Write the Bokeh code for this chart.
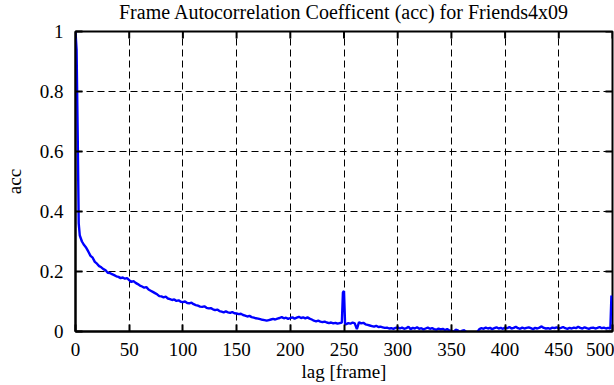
import math
from bokeh.plotting import figure
from bokeh.models import FixedTicker, Range1d, ColumnDataSource
from bokeh.embed import file_html
from bokeh.resources import INLINE

# ---- data (lag in frames, autocorrelation coefficient) ----
lag_head = [0, 1, 2, 3, 4, 5]
acc_head = [1.0, 0.94, 0.67, 0.36, 0.32, 0.31]

lag_body = list(range(6, 249, 2))
acc_body = [
    0.300, 0.288, 0.279, 0.266, 0.252, 0.246, 0.232, 0.226, 0.218, 0.214, 0.208, 0.204,
    0.196, 0.195, 0.191, 0.188, 0.184, 0.182, 0.178, 0.180, 0.176, 0.178, 0.171,
    0.165, 0.168, 0.162, 0.158, 0.153, 0.150, 0.146, 0.148, 0.140, 0.136, 0.132, 0.128,
    0.124, 0.118, 0.117, 0.114, 0.116, 0.110, 0.108, 0.105, 0.107, 0.102, 0.104, 0.099, 0.098,
    0.100, 0.095, 0.094, 0.096, 0.091, 0.088, 0.086, 0.083, 0.082, 0.084, 0.079, 0.077,
    0.078, 0.074, 0.071, 0.073, 0.068, 0.066, 0.064, 0.067, 0.064, 0.062, 0.065, 0.061, 0.060,
    0.058, 0.059, 0.055, 0.053, 0.050, 0.052, 0.048, 0.046, 0.044, 0.043, 0.041, 0.039,
    0.038, 0.036, 0.038, 0.040, 0.042, 0.040, 0.043, 0.045, 0.048, 0.044, 0.046, 0.042, 0.045,
    0.047, 0.043, 0.046, 0.049, 0.045, 0.047, 0.044, 0.047, 0.043, 0.040, 0.036, 0.034,
    0.036, 0.033, 0.031, 0.033, 0.030, 0.028, 0.030, 0.027, 0.029, 0.026, 0.028, 0.030,
]

lag_spike = [249, 250, 251]
acc_spike = [0.130, 0.135, 0.025]

lag_tail = list(range(252, 499, 2))
acc_tail = [
    0.024, 0.028, 0.026, 0.030, 0.027, 0.008, 0.031, 0.027, 0.029, 0.024, 0.022, 0.020,
    0.018, 0.016, 0.019, 0.015, 0.016, 0.014, 0.012, 0.013, 0.010, 0.011, 0.009, 0.012, 0.014,
    0.010, 0.013, 0.009, 0.011, 0.016, 0.008, 0.012, 0.010, 0.014, 0.009, 0.011, 0.007,
    0.010, 0.013, 0.009, 0.011, 0.008, 0.006, 0.010, 0.007, 0.009, 0.005, 0.008, 0.004, 0.002,
    -0.002, 0.006, 0.004, -0.003, 0.003, 0.004, -0.002, -0.006, -0.008, -0.005, -0.007, -0.002,
    0.008, 0.011, 0.009, 0.013, 0.010, 0.012, 0.008, 0.011, 0.014, 0.010, 0.012, 0.009,
    0.013, 0.011, 0.015, 0.010, 0.012, 0.016, 0.011, 0.009, 0.013, 0.010, 0.012, 0.014,
    0.011, 0.008, 0.012, 0.010, 0.013, 0.017, 0.012, 0.010, 0.011, 0.009, 0.013, 0.011,
    0.014, 0.010, 0.012, 0.015, 0.011, 0.009, 0.012, 0.010, 0.013, 0.011, 0.016, 0.012,
    0.010, 0.014, 0.011, 0.009, 0.012, 0.013, 0.010, 0.012, 0.015, 0.011, 0.013, 0.010, 0.012,
]

lag_end = [499, 500]
acc_end = [0.010, 0.120]

x_ticks = [0, 50, 100, 150, 200, 250, 300, 350, 400, 450, 500]
y_ticks = [0, 0.2, 0.4, 0.6, 0.8, 1.0]
y_tick_labels = ["0", "0.2", "0.4", "0.6", "0.8", "1"]
title_text = "Frame Autocorrelation Coefficent (acc) for Friends4x09"

X_MIN, X_MAX = 0, 500
Y_MIN, Y_MAX = 0, 1

lags = lag_head + lag_body + lag_spike + lag_tail + lag_end
accs = acc_head + acc_body + acc_spike + acc_tail + acc_end
source = ColumnDataSource(data=dict(lag=lags, acc=accs))

FONT = "Liberation Serif"
FS = "19px"

p = figure(
    width=614, height=385,
    output_backend="svg", toolbar_location=None,
    x_range=Range1d(X_MIN, X_MAX), y_range=Range1d(Y_MIN, Y_MAX),
    min_border_left=75, min_border_right=2, min_border_top=31, min_border_bottom=54,
    title=title_text,
)
p.background_fill_color = "white"
p.border_fill_color = "white"
p.outline_line_color = "black"
p.outline_line_width = 2

p.title.text_font = FONT
p.title.text_font_size = "20px"
p.title.text_font_style = "normal"
p.title.text_color = "black"
p.title.align = "center"
p.title.vertical_align = "top"
p.title.standoff = 0
p.title.offset = 0
p.title.padding = dict(left=0, right=0, top=0, bottom=7)

for g in (p.xgrid, p.ygrid):
    g.grid_line_color = "black"
    g.grid_line_dash = "7 4"
    g.grid_line_width = 1

p.line("lag", "acc", source=source, line_color="#0000ff", line_width=2.4)

p.xaxis.ticker = FixedTicker(ticks=x_ticks)
p.yaxis.ticker = FixedTicker(ticks=y_ticks)
p.yaxis.major_label_overrides = {t: s for t, s in zip(y_ticks, y_tick_labels)}
p.xaxis.axis_label = "lag [frame]"
p.yaxis.axis_label = "acc"

for axes in (p.xaxis, p.yaxis):
    axes.axis_line_width = 2
    axes.axis_line_color = "black"
    axes.major_tick_in = 7
    axes.major_tick_out = 0
    axes.major_tick_line_width = 2
    axes.minor_tick_line_color = None
    axes.major_label_text_font = FONT
    axes.major_label_text_font_size = FS
    axes.major_label_text_color = "black"
    axes.axis_label_text_font = FONT
    axes.axis_label_text_font_size = FS
    axes.axis_label_text_font_style = "normal"
    axes.axis_label_text_color = "black"

p.xaxis.major_label_standoff = 11
p.xaxis.axis_label_standoff = 2
p.yaxis.major_label_standoff = 12
p.yaxis.axis_label_standoff = 12

# mirrored inward ticks on the top and right border (gnuplot style)
p.ray(x=x_ticks, y=[Y_MAX] * len(x_ticks), length=7, length_units="screen",
      angle=-math.pi / 2, line_color="black", line_width=2)
p.ray(x=[X_MAX] * len(y_ticks), y=y_ticks, length=7, length_units="screen",
      angle=math.pi, line_color="black", line_width=2)

open("out.html", "w").write(file_html(p, INLINE))
